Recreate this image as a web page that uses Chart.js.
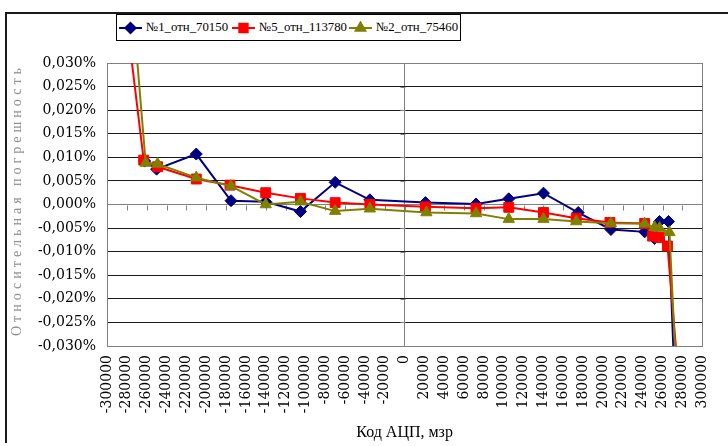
<!DOCTYPE html>
<html>
<head>
<meta charset="utf-8">
<script src="https://cdn.jsdelivr.net/npm/chart.js@4.4.0/dist/chart.umd.min.js"></script>
<style>
body { margin: 0; background: #fff; }
#wrap { position: relative; width: 728px; height: 446px; overflow: hidden; }
#frame { position: absolute; left: 5px; top: 12px; width: 760px; height: 429px; border-left: 2px solid #1a1a1a; border-top: 2px solid #1a1a1a; }
#legend { position: absolute; left: 116px; top: 14px; width: 343px; height: 25px; border: 1px solid #000; background: #fff;
  font-family: "Liberation Serif", "Times New Roman", serif; font-size: 12.8px; }
.item { position: absolute; top: 0; height: 25px; display: flex; align-items: center; white-space: nowrap; }
.item canvas { margin-right: 4px; }
#ytitle { position: absolute; left: 17px; top: 200px; transform: translate(-50%, -50%) rotate(-90deg); white-space: nowrap;
  font-family: "Liberation Serif", "Times New Roman", serif; font-size: 14px; letter-spacing: 4px; color: #8a8a8a; }
</style>
</head>
<body>
<div id="wrap">
  <div id="frame"></div>
  <canvas id="chart" width="728" height="446"></canvas>
  <div id="legend"></div>
  <div id="ytitle">Относительная погрешность</div>
</div>
<script>
// №1_отн_70150
const codes1 = [-262000, -250000, -210000, -175000, -140000, -105000, -70000, -35000, 21000, 72000,
                105000, 140000, 175000, 208000, 242000, 252000, 257000, 266000, 275000];
const err1 = [0.0092, 0.0075, 0.0107, 0.0008, 0.0006, -0.0015, 0.0047, 0.0010, 0.0004, 0.0001,
              0.0012, 0.0024, -0.0017, -0.0053, -0.0058, -0.0072, -0.0036, -0.0036, -0.053];

// №5_отн_113780
const codes2 = [-280000, -263000, -249000, -210000, -176000, -140000, -105000, -70000, -35000, 21000,
                72000, 105000, 140000, 173000, 207000, 242000, 250000, 257000, 265000, 275000];
const err2 = [0.039, 0.0094, 0.0080, 0.0054, 0.0041, 0.0025, 0.0013, 0.0004, 0.0000, -0.0005,
              -0.0008, -0.0006, -0.0017, -0.0029, -0.0038, -0.0040, -0.0067, -0.0070, -0.0088, -0.034];

// №2_отн_75460
const codes3 = [-280000, -261000, -249000, -210000, -175000, -140000, -105000, -70000, -35000, 22000,
                72000, 105000, 140000, 173000, 208000, 242000, 252000, 257000, 267000, 275000];
const err3 = [0.057, 0.0088, 0.0086, 0.0057, 0.0039, 0.0000, 0.0006, -0.0014, -0.0009, -0.0017,
              -0.0019, -0.0031, -0.0031, -0.0036, -0.0040, -0.0041, -0.0048, -0.0050, -0.0059, -0.041];

const seriesNames = ['№1_отн_70150', '№5_отн_113780', '№2_отн_75460'];
const seriesColors = ['#000080', '#ff0000', '#808000'];
const seriesMarkers = ['rectRot', 'rect', 'triangle'];
const markerSizes = [6, 7, 6.5];

const xMin = -300000, xMax = 300000, xStep = 20000;
const yMin = -0.03, yMax = 0.03, yStep = 0.005;

const serif = '"Liberation Serif", "Times New Roman", serif';
const wideSerif = '"DejaVu Serif", serif';

function toPoints(xs, ys) {
    return xs.map((x, i) => ({ x: x, y: ys[i] }));
}

const allData = [toPoints(codes1, err1), toPoints(codes2, err2), toPoints(codes3, err3)];

// legend: line + marker swatch, then the name
const legend = document.getElementById('legend');
const itemLeft = [2, 115, 232];
seriesNames.forEach((name, i) => {
    const item = document.createElement('div');
    item.className = 'item';
    item.style.left = itemLeft[i] + 'px';
    const sw = document.createElement('canvas');
    sw.width = 23;
    sw.height = 14;
    const c = sw.getContext('2d');
    c.strokeStyle = seriesColors[i];
    c.lineWidth = 2;
    c.beginPath();
    c.moveTo(0, 7);
    c.lineTo(23, 7);
    c.stroke();
    c.fillStyle = seriesColors[i];
    Chart.helpers.drawPoint(c, { pointStyle: seriesMarkers[i], radius: markerSizes[i] * 0.85, borderWidth: 1 }, 11.5, 7);
    c.fill();
    item.appendChild(sw);
    const label = document.createElement('span');
    label.textContent = name;
    item.appendChild(label);
    legend.appendChild(item);
});

// tick marks on the axes that cross at zero
const crossTicks = {
    id: 'crossTicks',
    beforeDatasetsDraw(chart) {
        const { ctx, scales: { x, y } } = chart;
        const y0 = Math.round(y.getPixelForValue(0)) + 0.5;
        const x0 = Math.round(x.getPixelForValue(0)) + 0.5;
        ctx.save();
        ctx.strokeStyle = '#808080';
        ctx.lineWidth = 1;
        ctx.beginPath();
        x.ticks.forEach(t => {
            const px = Math.round(x.getPixelForValue(t.value)) + 0.5;
            ctx.moveTo(px, y0);
            ctx.lineTo(px, y0 + 5);
        });
        y.ticks.forEach(t => {
            const py = Math.round(y.getPixelForValue(t.value)) + 0.5;
            ctx.moveTo(x0 - 5, py);
            ctx.lineTo(x0, py);
        });
        ctx.stroke();
        ctx.restore();
    }
};

function isEdge(v, lim) {
    return Math.abs(Math.abs(v) - lim) < 1e-9;
}

new Chart(document.getElementById('chart'), {
    type: 'scatter',
    data: {
        datasets: allData.map((pts, i) => ({
            label: seriesNames[i],
            data: pts,
            showLine: true,
            borderColor: seriesColors[i],
            backgroundColor: seriesColors[i],
            borderWidth: 2,
            pointStyle: seriesMarkers[i],
            pointRadius: markerSizes[i],
            pointBorderWidth: 1,
            tension: 0,
            order: 3 - i
        }))
    },
    options: {
        responsive: false,
        animation: false,
        layout: { padding: { left: 6, right: 20, top: 63, bottom: 0 } },
        plugins: {
            legend: { display: false },
            tooltip: { enabled: false }
        },
        scales: {
            x: {
                type: 'linear',
                min: xMin,
                max: xMax,
                afterFit: s => { s.height = 100; },
                ticks: {
                    stepSize: xStep,
                    autoSkip: false,
                    minRotation: 90,
                    maxRotation: 90,
                    padding: 9,
                    color: '#000',
                    font: { family: wideSerif, size: 14 },
                    callback: v => String(v)
                },
                grid: {
                    drawTicks: false,
                    color: c => (c.tick && (c.tick.value === 0 || isEdge(c.tick.value, xMax))) ? '#808080' : 'rgba(0,0,0,0)'
                },
                border: { color: '#808080' },
                title: {
                    display: true,
                    text: 'Код АЦП, мзр',
                    color: '#000',
                    font: { family: serif, size: 16 },
                    padding: { top: 0, bottom: 4 }
                }
            },
            y: {
                min: yMin,
                max: yMax,
                afterFit: s => { s.width = 101; },
                ticks: {
                    stepSize: yStep,
                    padding: 11,
                    color: '#000',
                    font: { family: wideSerif, size: 14 },
                    callback: v => {
                        const n = Math.abs(v) < 1e-9 ? 0 : v;
                        return n.toFixed(3).replace('.', ',') + '%';
                    }
                },
                grid: {
                    drawTicks: false,
                    color: c => (c.tick && (Math.abs(c.tick.value) < 1e-9 || isEdge(c.tick.value, yMax))) ? '#808080' : '#1a1a1a'
                },
                border: { color: '#808080' }
            }
        }
    },
    plugins: [crossTicks]
});
</script>
</body>
</html>
